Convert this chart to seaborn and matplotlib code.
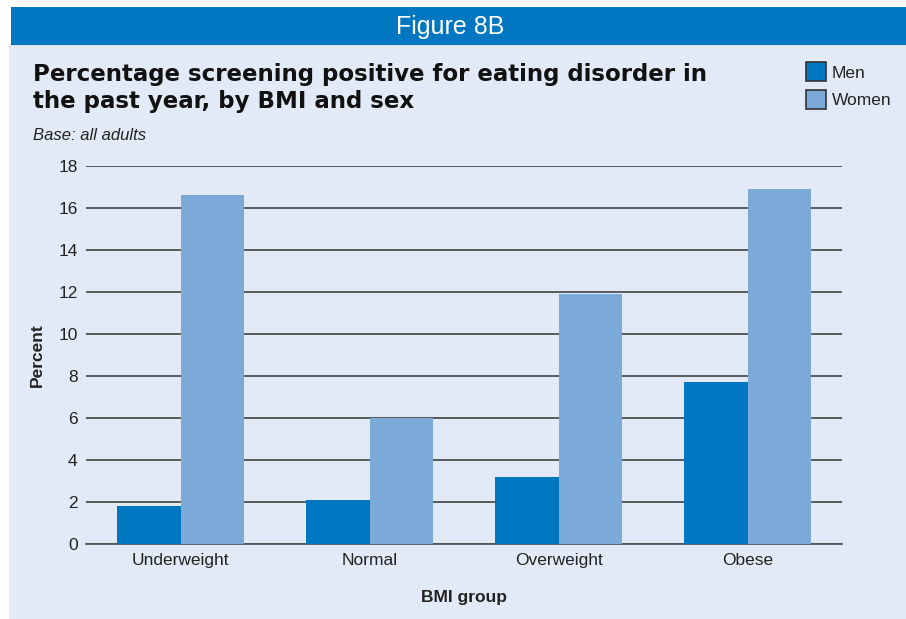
import matplotlib
matplotlib.use("Agg")
import matplotlib.pyplot as plt
import seaborn as sns
import pandas as pd
from matplotlib.patches import Rectangle, Patch

categories = ["Underweight", "Normal", "Overweight", "Obese"]
men = [1.8, 2.1, 3.2, 7.7]
women = [16.6, 6.0, 11.9, 16.9]
series = ["Men", "Women"]
yticks = [0, 2, 4, 6, 8, 10, 12, 14, 16, 18]

MEN_C = "#0077C0"
WOMEN_C = "#7BAAD9"
BG = "#E3EAF7"
TXT = "#222222"

df = pd.DataFrame({
    "BMI group": categories * 2,
    "Percent": men + women,
    "Sex": ["Men"] * len(categories) + ["Women"] * len(categories),
})

sns.set_theme(style="white")
plt.rcParams["font.family"] = ["Liberation Sans", "DejaVu Sans"]

W, H = 906, 619
fig = plt.figure(figsize=(W / 100, H / 100), dpi=100)
fig.patch.set_facecolor("white")

# panel background and header band
fig.patches.append(Rectangle((9 / W, 0), 1 - 9 / W, (619 - 45) / H, transform=fig.transFigure,
                             facecolor=BG, edgecolor="none", zorder=-2))
fig.patches.append(Rectangle((11 / W, (619 - 45) / H), 1 - 11 / W, 38 / H, transform=fig.transFigure,
                             facecolor=MEN_C, edgecolor="none", zorder=-1))
fig.text(450 / W, 1 - 27 / H, "Figure 8B", color="white", fontsize=18, ha="center", va="center")

fig.text(33 / W, 1 - 88 / H, "Percentage screening positive for eating disorder in\nthe past year, by BMI and sex",
         fontsize=16.5, fontweight="bold", color="#111111", ha="left", va="center", linespacing=1.2,
         family=["DejaVu Sans"])
fig.text(33 / W, 1 - 135 / H, "Base: all adults", fontsize=12, style="italic", color=TXT,
         ha="left", va="center")

ax = fig.add_axes([86 / W, (619 - 544.3) / H, 756 / W, 378.3 / H])
ax.set_facecolor("none")

sns.barplot(data=df, x="BMI group", y="Percent", hue="Sex", hue_order=series,
            palette=[MEN_C, WOMEN_C], width=0.667, saturation=1, ax=ax, legend=False,
            linewidth=0, zorder=3)

ax.set_xlim(-0.5, 3.5)
ax.set_ylim(0, 18)
ax.set_yticks(yticks)
ax.set_yticklabels([str(t) for t in yticks], fontsize=12.5, color=TXT)
ax.tick_params(axis="x", labelsize=12.5, colors=TXT, length=0, pad=6)
ax.tick_params(axis="y", length=0, pad=6)
ax.yaxis.grid(True, color="#333333", linewidth=1.1)
ax.set_axisbelow(True)
for s in ["top", "right", "left"]:
    ax.spines[s].set_visible(False)
ax.spines["bottom"].set_color("#555555")
ax.spines["bottom"].set_linewidth(1.3)
ax.set_xlabel("BMI group", fontsize=12.5, fontweight="bold", color=TXT, labelpad=16)
ax.set_ylabel("Percent", fontsize=12.5, fontweight="bold", color=TXT, labelpad=10)

handles = [Patch(facecolor=MEN_C, edgecolor="#333333", linewidth=1.2),
           Patch(facecolor=WOMEN_C, edgecolor="#333333", linewidth=1.2)]
fig.legend(handles, series, loc="upper left", bbox_to_anchor=(803 / W, 1 - 59 / H),
           frameon=False, fontsize=12.5, handlelength=1.1, handleheight=1.3,
           handletextpad=0.35, labelspacing=0.5, borderaxespad=0, borderpad=0.2,
           labelcolor=TXT)

fig.savefig("out.png", dpi=100, facecolor=fig.get_facecolor())
